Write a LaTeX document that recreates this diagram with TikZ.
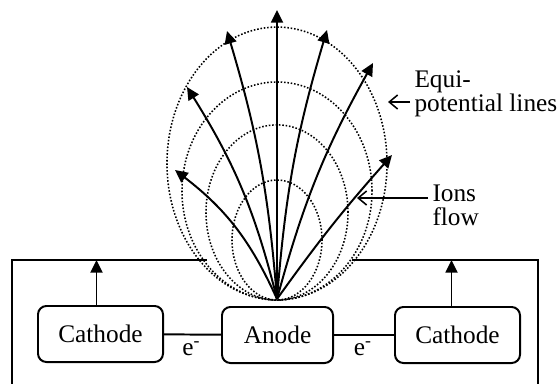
\documentclass[tikz,border=0pt]{standalone}
\usepackage{fontspec}
\setmainfont{Liberation Serif}
\usetikzlibrary{arrows.meta}

\begin{document}
\begin{tikzpicture}[x=0.025cm,y=-0.025cm,
                    every node/.style={font=\fontsize{18}{17}\selectfont},
                    box/.style={draw,rounded corners=6pt,line width=1.4pt,minimum height=1.4cm,inner sep=0pt},
                    wire/.style={line width=1.4pt},
                    ion/.style={line width=1.4pt,-{Triangle[length=9pt,width=8.5pt]}},
                    equi/.style={line width=1.1pt,dash pattern=on 1.1pt off 1.3pt},
                    lbl/.style={align=left,inner sep=3pt,anchor=west},
                    ptr/.style={line width=1.1pt,-{Straight Barb[length=6pt,width=10pt]}}]
  \useasboundingbox (0,0) rectangle (557,383);
  % electrodes
  \node[box,minimum width=3.125cm] (cl) at (100.5,334) {Cathode};
  \node[box,minimum width=2.775cm] (an) at (277.5,335) {Anode};
  \node[box,minimum width=3.125cm] (cr) at (457.5,335) {Cathode};
  \draw[wire] (cl) -- (an) node[pos=0.48,below=1pt] (el) {e\textsuperscript{-}};
  \draw[wire] (an) -- (cr) node[pos=0.48,below=1pt] (er) {e\textsuperscript{-}};
  % outer wire
  \coordinate (wbl) at (12,390);
  \coordinate (wtl) at (12,260);
  \coordinate (wgl) at (207,260);
  \coordinate (wgr) at (352,260);
  \coordinate (wtr) at (538,260);
  \coordinate (wbr) at (538,390);
  \draw[wire] (wbl) -- (wtl) -- (wgl);
  \draw[wire] (wgr) -- (wtr) -- (wbr);
  \draw[ion] ([xshift=-1mm]cl.north) -- ([xshift=-1mm]cl.north |- wtl);
  \draw[ion] ([xshift=-1.5mm]cr.north) -- ([xshift=-1.5mm]cr.north |- wtr);
  % equipotential lines
  \draw[equi] (277,163.5) ellipse [x radius=2.75cm,y radius=3.41cm];
  \draw[equi] (277,191) ellipse [x radius=2.375cm,y radius=2.725cm];
  \draw[equi] (277,212.5) ellipse [x radius=1.775cm,y radius=2.19cm];
  \draw[equi] (277,240) ellipse [x radius=1.125cm,y radius=1.5cm];
  % ion flow
  \coordinate (src) at (277,299);
  \coordinate (t1) at (175,170);
  \coordinate (t2) at (187,87);
  \coordinate (t3) at (227,31);
  \coordinate (t4) at (277,10);
  \coordinate (t5) at (327,30);
  \coordinate (t6) at (373,63);
  \coordinate (t7) at (392,155);
  \draw[ion] (src) to[bend right=14] (t1);
  \draw[ion] (src) to[bend right=9] (t2);
  \draw[ion] (src) to[bend right=6] (t3);
  \draw[ion] (src) -- (t4);
  \draw[ion] (src) to[bend left=6] (t5);
  \draw[ion] (src) to[bend left=7] (t6);
  \draw[ion] (src) to[bend left=3] (t7);
  % labels
  \node[lbl] (eq) at (410,94) {Equi-\\potential lines};
  \coordinate (eqtip) at (388,102);
  \draw[ptr] (eq.west |- eqtip) -- (eqtip);
  \node[lbl] (io) at (428,205) {Ions\\flow};
  \coordinate (iotip) at (357,198);
  \draw[ptr] (io.west |- iotip) -- (iotip);
\end{tikzpicture}
\end{document}
